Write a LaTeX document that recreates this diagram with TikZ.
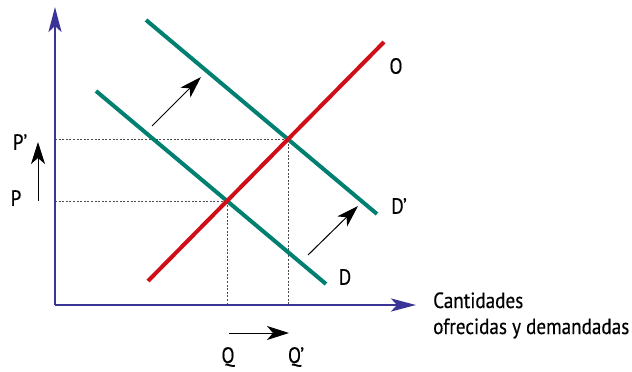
\documentclass[tikz,border=0pt]{standalone}
\usepackage{fontspec}
\setmainfont[FakeStretch=0.87, FakeBold=0.4]{PT Sans}
\usetikzlibrary{arrows.meta, positioning, calc}
\definecolor{axisblue}{RGB}{58,52,150}
\definecolor{supplyred}{RGB}{208,14,24}
\definecolor{demandgreen}{RGB}{0,128,112}
\tikzset{
    axisline/.style={line width=2.6pt, draw=axisblue, -{Stealth[length=25pt,width=13pt,inset=6pt]}},
    supplyline/.style={line width=4pt, draw=supplyred},
    demandline/.style={line width=4pt, draw=demandgreen},
    shiftarrow/.style={line width=1pt, -{Stealth[length=22pt,width=14pt,inset=6pt]}},
    guide/.style={line width=0.8pt, draw=black!70, dash pattern=on 2pt off 1.6pt},
    lbl/.style={inner sep=0pt, font=\fontsize{22}{26}\selectfont}
}

\begin{document}
\begin{tikzpicture}[x=1pt, y=-1pt]
    \useasboundingbox (0,0) rectangle (632,372);
    % axes
    \coordinate (origin) at (55,305);
    \coordinate (ytop) at (55,7);
    \coordinate (xright) at (416,305);
    \draw[axisline] (origin) -- (ytop);
    \draw[axisline] (origin) -- (xright);

    % supply and demand curves
    \coordinate (O1) at (148,281);
    \coordinate (O2) at (384,42);
    \coordinate (D1) at (96,91);
    \coordinate (D2) at (326,284);
    \coordinate (Dp1) at (146,20);
    \coordinate (Dp2) at (377,214);
    \coordinate (E) at (intersection of O1--O2 and D1--D2);
    \coordinate (Ep) at (intersection of O1--O2 and Dp1--Dp2);
    \coordinate (Px) at (origin |- E);
    \coordinate (Ppx) at (origin |- Ep);
    \coordinate (Qx) at (origin -| E);
    \coordinate (Qpx) at (origin -| Ep);

    % guides
    \draw[guide] (Px) -- (E) -- (Qx);
    \draw[guide] (Ppx) -- (Ep) -- (Qpx);

    \draw[demandline] (D1) -- (D2);
    \draw[demandline] (Dp1) -- (Dp2);
    \draw[supplyline] (O1) -- (O2);

    % labels
    \node[lbl] (Olbl) at (396,66) {O};
    \node[lbl] (Dplbl) at (399,206) {D’};
    \node[lbl] (Dlbl) at (345,277) {D};
    \node[lbl] (Pplbl) at (20,142) {P’};
    \node[lbl] (Plbl) at (16,198) {P};
    \node[lbl] (Qlbl) at (228,357) {Q};
    \node[lbl] (Qplbl) at (296,357) {Q’};
    \node[lbl, anchor=base west] (xlab1) at (433,308) {Cantidades};
    \node[lbl, anchor=base west] (xlab2) at (433,334) {ofrecidas y demandadas};

    % shift arrows
    \coordinate (a1s) at (152,126);
    \coordinate (a1e) at (201,77);
    \coordinate (a2s) at (308,255);
    \coordinate (a2e) at (358,206);
    \coordinate (aps) at (38,201);
    \coordinate (ape) at (38,142);
    \coordinate (aqs) at (229,333);
    \coordinate (aqe) at (289,333);
    \draw[shiftarrow] (a1s) -- (a1e);
    \draw[shiftarrow] (a2s) -- (a2e);
    \draw[shiftarrow] (aps) -- (ape);
    \draw[shiftarrow] (aqs) -- (aqe);
\end{tikzpicture}
\end{document}
